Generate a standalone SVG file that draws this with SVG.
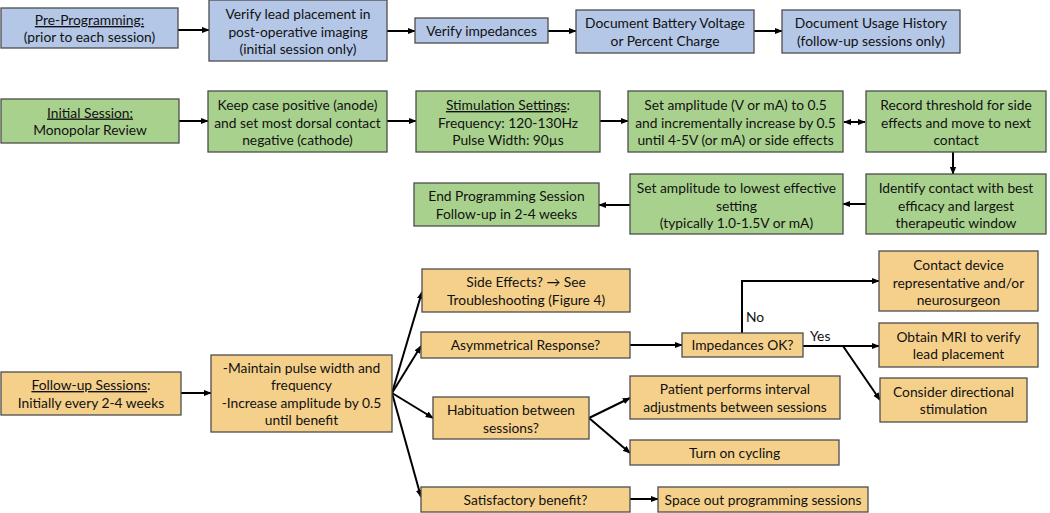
<svg xmlns="http://www.w3.org/2000/svg" width="1050" height="513" viewBox="0 0 1050 513">
<defs>
<style>
.b{fill:#b4c7e7;stroke:#4d4d4d;stroke-width:1.3}
.g{fill:#a9d18e;stroke:#4d4d4d;stroke-width:1.3}
.o{fill:#f5d08b;stroke:#4d4d4d;stroke-width:1.3}
text{font-family:Lato,"Open Sans",sans-serif;font-size:13.8px;fill:#111;text-anchor:middle}
.u{text-decoration:underline}
.c line,.c path{stroke:#000;stroke-width:2;fill:none}
.lbl{text-anchor:start}
</style>
<marker id="ah" viewBox="0 0 10 10" refX="9" refY="5" markerWidth="4" markerHeight="4" orient="auto-start-reverse" markerUnits="strokeWidth">
<path d="M0,1 L10,5 L0,9 z" fill="#000"/>
</marker>
</defs>
<rect width="1050" height="513" fill="#fff"/>

<g class="c" id="connectors">
<line x1="178" y1="30" x2="209" y2="30" marker-end="url(#ah)"/>
<line x1="387" y1="31" x2="415" y2="31" marker-end="url(#ah)"/>
<line x1="548" y1="31" x2="576" y2="31" marker-end="url(#ah)"/>
<line x1="754" y1="31" x2="782" y2="31" marker-end="url(#ah)"/>
<line x1="179" y1="121" x2="208" y2="121" marker-end="url(#ah)"/>
<line x1="387" y1="121" x2="416" y2="121" marker-end="url(#ah)"/>
<line x1="600" y1="121" x2="628" y2="121" marker-end="url(#ah)"/>
<line x1="844" y1="122" x2="865" y2="122" marker-start="url(#ah)" marker-end="url(#ah)"/>
<line x1="953" y1="152" x2="953" y2="174" marker-end="url(#ah)"/>
<line x1="866" y1="204" x2="843" y2="204" marker-end="url(#ah)"/>
<line x1="630" y1="205" x2="599" y2="205" marker-end="url(#ah)"/>
<line x1="181" y1="393" x2="211" y2="393" marker-end="url(#ah)"/>
<line x1="392" y1="393" x2="422" y2="292" marker-end="url(#ah)"/>
<line x1="392" y1="393" x2="421" y2="346" marker-end="url(#ah)"/>
<line x1="392" y1="393" x2="433" y2="418" marker-end="url(#ah)"/>
<line x1="392" y1="393" x2="421" y2="497" marker-end="url(#ah)"/>
<line x1="630" y1="345" x2="682" y2="345" marker-end="url(#ah)"/>
<path d="M742,333 V281 H879" marker-end="url(#ah)"/>
<line x1="803" y1="346" x2="879" y2="346" marker-end="url(#ah)"/>
<line x1="843" y1="346" x2="880" y2="400" marker-end="url(#ah)"/>
<line x1="589" y1="418" x2="630" y2="398" marker-end="url(#ah)"/>
<line x1="589" y1="418" x2="630" y2="453" marker-end="url(#ah)"/>
<line x1="630" y1="499" x2="658" y2="499" marker-end="url(#ah)"/>
<text class="lbl" x="746" y="322">No</text>
<text class="lbl" x="810" y="341">Yes</text>
</g>

<g id="pre"><rect class="b" x="1" y="8" width="177" height="40"/><text x="89.5" y="25"><tspan class="u">Pre-Programming:</tspan></text><text x="89.5" y="42">(prior to each session)</text></g>
<g id="verify-lead"><rect class="b" x="209" y="0" width="178" height="61"/><text x="298" y="19">Verify lead placement in</text><text x="298" y="36.5">post-operative imaging</text><text x="298" y="54">(initial session only)</text></g>
<g id="verify-imp"><rect class="b" x="415" y="18" width="133" height="25"/><text x="481.5" y="35.5">Verify impedances</text></g>
<g id="battery"><rect class="b" x="576" y="10" width="178" height="43"/><text x="665" y="28">Document Battery Voltage</text><text x="665" y="45.5">or Percent Charge</text></g>
<g id="usage"><rect class="b" x="782" y="10" width="178" height="43"/><text x="871" y="28">Document Usage History</text><text x="871" y="45.5">(follow-up sessions only)</text></g>

<g id="initial"><rect class="g" x="1" y="99" width="178" height="44"/><text x="90" y="117.5"><tspan class="u">Initial Session:</tspan></text><text x="90" y="135">Monopolar Review</text></g>
<g id="keep"><rect class="g" x="208" y="91" width="179" height="61"/><text x="297.5" y="110">Keep case positive (anode)</text><text x="297.5" y="127.5">and set most dorsal contact</text><text x="297.5" y="145">negative (cathode)</text></g>
<g id="stim"><rect class="g" x="416" y="91" width="184" height="61"/><text x="508" y="110"><tspan class="u">Stimulation Settings</tspan>:</text><text x="508" y="127.5">Frequency: 120-130Hz</text><text x="508" y="145">Pulse Width: 90µs</text></g>
<g id="setamp"><rect class="g" x="628" y="91" width="215" height="61"/><text x="735.5" y="110">Set amplitude (V or mA) to 0.5</text><text x="735.5" y="127.5">and incrementally increase by 0.5</text><text x="735.5" y="145">until 4-5V (or mA) or side effects</text></g>
<g id="record"><rect class="g" x="866" y="91" width="180" height="61"/><text x="956" y="110">Record threshold for side</text><text x="956" y="127.5">effects and move to next</text><text x="956" y="145">contact</text></g>
<g id="identify"><rect class="g" x="866" y="174" width="180" height="60"/><text x="956" y="193">Identify contact with best</text><text x="956" y="210.5">efficacy and largest</text><text x="956" y="228">therapeutic window</text></g>
<g id="setlow"><rect class="g" x="630" y="174" width="213" height="60"/><text x="736.5" y="193">Set amplitude to lowest effective</text><text x="736.5" y="210.5">setting</text><text x="736.5" y="228">(typically 1.0-1.5V or mA)</text></g>
<g id="end"><rect class="g" x="414" y="183" width="185" height="43"/><text x="506.5" y="201">End Programming Session</text><text x="506.5" y="218.5">Follow-up in 2-4 weeks</text></g>

<g id="follow"><rect class="o" x="1" y="372" width="180" height="43"/><text x="91" y="390"><tspan class="u">Follow-up Sessions</tspan>:</text><text x="91" y="407.5">Initially every 2-4 weeks</text></g>
<g id="maintain"><rect class="o" x="211" y="355" width="181" height="77"/><text x="301.5" y="372.5">-Maintain pulse width and</text><text x="301.5" y="390">frequency</text><text x="301.5" y="407.5">-Increase amplitude by 0.5</text><text x="301.5" y="425">until benefit</text></g>
<g id="side"><rect class="o" x="422" y="269" width="208" height="43"/><text x="526" y="287">Side Effects? → See</text><text x="526" y="304.5">Troubleshooting (Figure 4)</text></g>
<g id="asym"><rect class="o" x="421" y="332" width="209" height="26"/><text x="525.5" y="350">Asymmetrical Response?</text></g>
<g id="habit"><rect class="o" x="433" y="397" width="156" height="42"/><text x="511" y="415">Habituation between</text><text x="511" y="432.5">sessions?</text></g>
<g id="satisf"><rect class="o" x="421" y="487" width="209" height="25"/><text x="525.5" y="504.5">Satisfactory benefit?</text></g>
<g id="impok"><rect class="o" x="682" y="333" width="121" height="24"/><text x="742.5" y="350">Impedances OK?</text></g>
<g id="contact"><rect class="o" x="879" y="251" width="159" height="60"/><text x="958.5" y="270">Contact device</text><text x="958.5" y="287.5">representative and/or</text><text x="958.5" y="305">neurosurgeon</text></g>
<g id="mri"><rect class="o" x="879" y="323" width="159" height="44"/><text x="958.5" y="341.5">Obtain MRI to verify</text><text x="958.5" y="359">lead placement</text></g>
<g id="consider"><rect class="o" x="880" y="378" width="147" height="44"/><text x="953.5" y="396.5">Consider directional</text><text x="953.5" y="414">stimulation</text></g>
<g id="patient"><rect class="o" x="630" y="376" width="210" height="43"/><text x="735" y="394">Patient performs interval</text><text x="735" y="411.5">adjustments between sessions</text></g>
<g id="turn"><rect class="o" x="630" y="440" width="209" height="25"/><text x="734.5" y="457.5">Turn on cycling</text></g>
<g id="space"><rect class="o" x="658" y="487" width="210" height="25"/><text x="763" y="504.5">Space out programming sessions</text></g>
</svg>
